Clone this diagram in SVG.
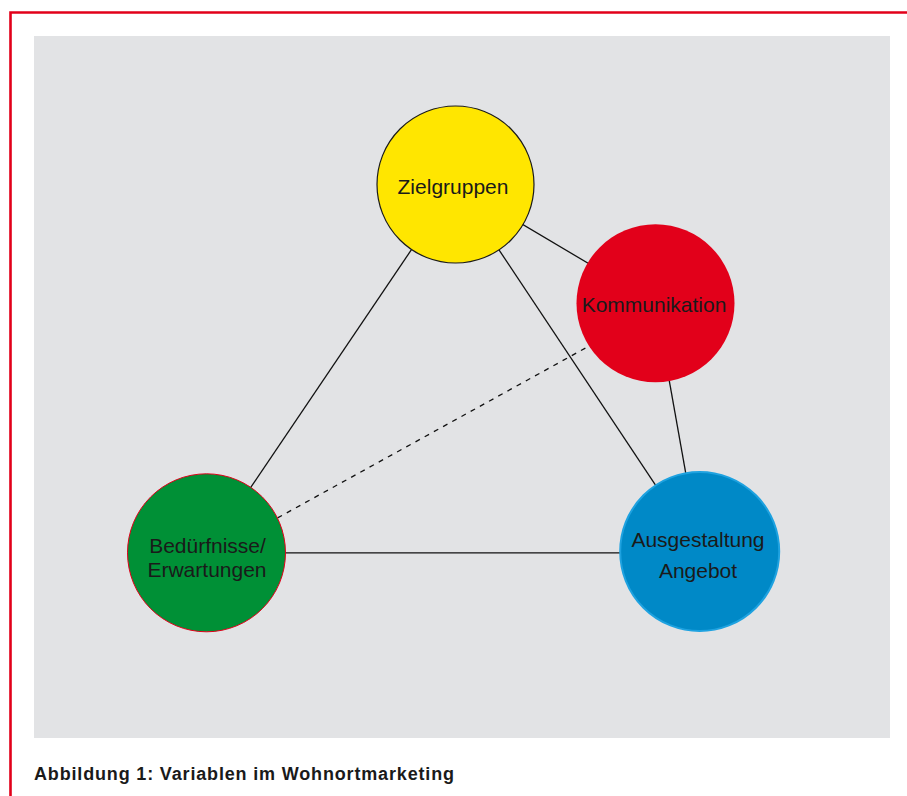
<svg xmlns="http://www.w3.org/2000/svg" width="907" height="796" viewBox="0 0 907 796">
<style>
.lbl{font-family:"Liberation Sans",Arial,sans-serif;font-size:21px;fill:#1a1a1a;text-anchor:middle}
.cap{font-family:"Liberation Sans",Arial,sans-serif;font-size:18px;font-weight:bold;fill:#1a1a1a}
.ln{stroke:#111;stroke-width:1.3;fill:none}
.dash{stroke-dasharray:5 5.5}
</style>
<rect width="907" height="796" fill="#ffffff"/>
<path d="M10.5,796 V12.5 H907" fill="none" stroke="#e2001a" stroke-width="2.6"/>
<rect x="34" y="36" width="856" height="702" fill="#e2e3e5"/>
<g id="connectors">
<line class="ln" x1="455.5" y1="184.5" x2="206.5" y2="552.8"/>
<line class="ln" x1="455.5" y1="184.5" x2="699.7" y2="551.5"/>
<line class="ln" x1="455.5" y1="184.5" x2="655.5" y2="303.3"/>
<line class="ln" x1="655.5" y1="303.3" x2="699.7" y2="551.5"/>
<line class="ln" x1="206.5" y1="552.8" x2="699.7" y2="552.8"/>
<line class="ln dash" x1="250" y1="533.1" x2="620" y2="329"/>
</g>
<g id="zielgruppen">
<circle cx="455.5" cy="184.5" r="78.5" fill="#ffe600" stroke="#1a1a1a" stroke-width="1.2"/>
<text class="lbl" x="453" y="194">Zielgruppen</text>
</g>
<g id="kommunikation">
<circle cx="655.5" cy="303.3" r="79" fill="#e2001a"/>
<text class="lbl" x="654" y="312">Kommunikation</text>
</g>
<g id="beduerfnisse">
<circle cx="206.5" cy="552.8" r="79" fill="#009036" stroke="#e2001a" stroke-width="1"/>
<text class="lbl" x="207.5" y="552.7">Bedürfnisse/</text>
<text class="lbl" x="207" y="576.7">Erwartungen</text>
</g>
<g id="ausgestaltung">
<circle cx="699.7" cy="551.5" r="79.5" fill="#0089c7" stroke="#1ea2e0" stroke-width="2"/>
<text class="lbl" x="698" y="547.3">Ausgestaltung</text>
<text class="lbl" x="698" y="578.3">Angebot</text>
</g>
<text class="cap" x="34" y="780" textLength="420" lengthAdjust="spacing">Abbildung 1: Variablen im Wohnortmarketing</text>
</svg>
